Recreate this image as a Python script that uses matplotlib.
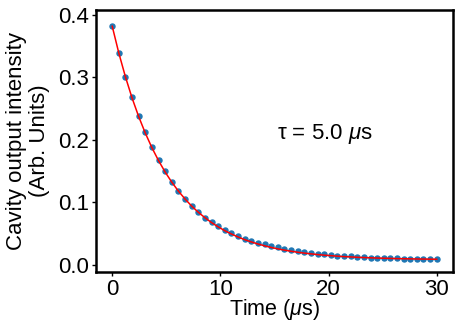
import matplotlib
matplotlib.use("Agg")
import matplotlib.pyplot as plt
import numpy as np

plt.rcParams['font.family'] = ['Liberation Sans', 'DejaVu Sans']
plt.rcParams['mathtext.fontset'] = 'custom'
plt.rcParams['mathtext.it'] = 'Liberation Sans:italic'
plt.rcParams['mathtext.rm'] = 'Liberation Sans'

# measured points (50 samples from 0 to 30 us)
time_us = np.linspace(0, 30, 50)
intensity = [0.382, 0.339, 0.301, 0.268, 0.239, 0.212, 0.188, 0.168, 0.150, 0.133,
             0.118, 0.1055, 0.094, 0.0845, 0.0755, 0.069, 0.0625, 0.0565, 0.051, 0.046,
             0.0415, 0.038, 0.0345, 0.0335, 0.030, 0.028, 0.0258, 0.0242, 0.0226, 0.020,
             0.0188, 0.0176, 0.0166, 0.0158, 0.0148, 0.0140, 0.0134, 0.0127, 0.0121, 0.0116,
             0.0112, 0.0108, 0.0104, 0.0101, 0.0099, 0.0097, 0.0095, 0.0093, 0.0092, 0.0091]

# fitted curve values at the same times (tau = 5.0 us)
fit_vals = [0.3820, 0.3389, 0.3008, 0.2670, 0.2372, 0.2108, 0.1874, 0.1667, 0.1484, 0.1322,
            0.1179, 0.1053, 0.0940, 0.0841, 0.0754, 0.0676, 0.0607, 0.0546, 0.0493, 0.0445,
            0.0403, 0.0366, 0.0333, 0.0304, 0.0278, 0.0255, 0.0235, 0.0217, 0.0201, 0.0187,
            0.0175, 0.0164, 0.0154, 0.0146, 0.0138, 0.0131, 0.0126, 0.0120, 0.0116, 0.0112,
            0.0108, 0.0105, 0.0102, 0.0099, 0.0097, 0.0095, 0.0093, 0.0092, 0.0090, 0.0089]

fig = plt.figure(figsize=(4.58, 3.23), dpi=100)
ax = fig.add_axes([0.2096, 0.158, 0.7794, 0.811])

ax.plot(time_us, intensity, "o", color="#1f77b4", markersize=3.6)
ax.plot(time_us, fit_vals, "r", linewidth=1.1)

ax.set_xlim(-1.5, 31.5)
ax.set_ylim(-0.0115, 0.408)
ax.set_xticks([0, 10, 20, 30])
ax.set_yticks([0.0, 0.1, 0.2, 0.3, 0.4])
ax.set_yticklabels(["0.0", "0.1", "0.2", "0.3", "0.4"])

for s in ax.spines.values():
    s.set_linewidth(1.8)
ax.tick_params(labelsize=16, length=3, width=1, direction="out", pad=2)

ax.set_xlabel(r"Time ($\mu$s)", fontsize=15.5, va="baseline")
ax.xaxis.set_label_coords(0.5, -0.164)
ax.set_ylabel("Cavity output intensity\n(Arb. Units)", fontsize=16,
              linespacing=1.15)
ax.yaxis.set_label_coords(-0.128, 0.5)

ax.text(15.2, 0.21, r"τ = 5.0 $\mu$s", fontsize=16, va="center", ha="left")

fig.savefig("out.png", dpi=100)
